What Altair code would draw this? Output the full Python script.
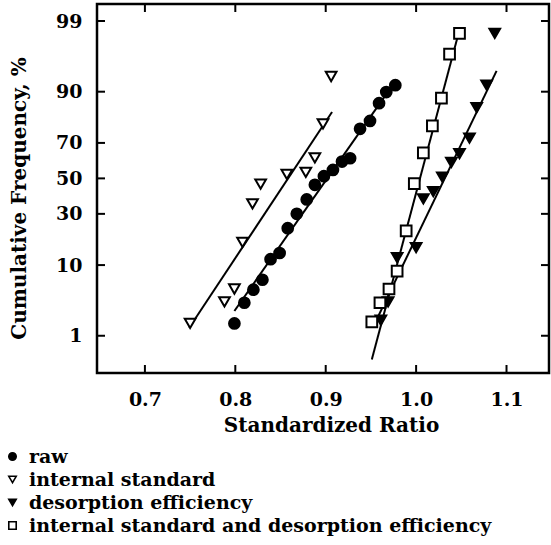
import altair as alt
import pandas as pd
from statistics import NormalDist

series_names = ["raw", "internal standard", "desorption efficiency",
                "internal standard and desorption efficiency"]

raw_x = [0.799, 0.810, 0.820, 0.830, 0.839, 0.849, 0.858, 0.868, 0.879, 0.888,
         0.898, 0.908, 0.918, 0.927, 0.938, 0.949, 0.959, 0.967, 0.977]
raw_p = [1.6, 3.3, 5.0, 6.7, 11.6, 13.5, 23.1, 30.0, 37.8, 46.2,
         51.3, 55.0, 59.8, 61.7, 76.8, 80.2, 86.7, 89.9, 91.6]

is_x = [0.750, 0.788, 0.799, 0.808, 0.819, 0.828, 0.857, 0.878, 0.888, 0.897, 0.906]
is_p = [1.6, 3.4, 5.1, 17.2, 35.3, 46.6, 52.4, 53.6, 61.9, 79.0, 93.4]

de_x = [0.961, 0.969, 0.979, 1.000, 1.008, 1.019, 1.029, 1.039, 1.048, 1.059,
        1.067, 1.078, 1.087]
de_p = [1.8, 3.4, 12.1, 15.3, 38.1, 42.3, 50.8, 59.3, 64.3, 72.4, 85.2, 91.6, 98.4]

isde_x = [0.951, 0.960, 0.970, 0.979, 0.989, 0.998, 1.008, 1.018, 1.028, 1.037, 1.048]
isde_p = [1.7, 3.3, 5.1, 8.5, 21.9, 46.9, 64.7, 78.1, 88.2, 96.7, 98.4]

# fitted lines (endpoints)
line_series = ["raw", "raw", "internal standard", "internal standard",
               "desorption efficiency", "desorption efficiency",
               "internal standard and desorption efficiency",
               "internal standard and desorption efficiency"]
line_x = [0.799, 0.974, 0.749, 0.907, 0.956, 1.089, 0.951, 1.048]
line_p = [2.5, 91.6, 1.36, 83.7, 1.8, 94.4, 0.37, 98.6]

x_ticks = [0.7, 0.8, 0.9, 1.0, 1.1]
y_ticks_pct = [1, 10, 30, 50, 70, 90, 99]

nd = NormalDist()
y_tick_z = [nd.inv_cdf(p / 100) for p in y_ticks_pct]

W, H = 452, 369
FONT = "DejaVu Serif"

rows = []
for name, xs, ps in [(series_names[0], raw_x, raw_p), (series_names[1], is_x, is_p),
                     (series_names[2], de_x, de_p), (series_names[3], isde_x, isde_p)]:
    for xv, pv in zip(xs, ps):
        rows.append({"series": name, "x": xv, "p": pv})
pts = pd.DataFrame(rows)
lines = pd.DataFrame({"series": line_series, "x": line_x, "p": line_p})
xt = pd.DataFrame({"x": x_ticks})
yt = pd.DataFrame({"z": y_tick_z})

X = alt.X("x:Q", scale=alt.Scale(domain=[0.647, 1.147], nice=False, zero=False),
          axis=alt.Axis(values=x_ticks, format=".1f", title="Standardized Ratio",
                        labelPadding=17, titleX=234, titleY=58, titleAlign="center",
                        titleBaseline="alphabetic"))
Y = alt.Y("z:Q", scale=alt.Scale(domain=[-2.877, 2.578], nice=False, zero=False),
          axis=alt.Axis(values=y_tick_z,
                        labelExpr="format(round(cumulativeNormal(datum.value)*100),'d')",
                        title="Cumulative Frequency, %", labelPadding=15,
                        titleX=-72, titleY=194, titleAlign="center",
                        titleBaseline="alphabetic", titleAngle=270))

leg = alt.Legend(title=None, orient="none", legendX=-94, legendY=443,
                 symbolSize=55, symbolStrokeWidth=1.6,
                 labelFont=FONT, labelFontWeight="bold", labelFontSize=19,
                 labelLimit=2000, rowPadding=3, labelOffset=7, padding=0)

points = alt.Chart(pts).transform_calculate(
    z="quantileNormal(datum.p/100)"
).mark_point(filled=True, size=115, strokeWidth=2, opacity=1).encode(
    x=X, y=Y,
    shape=alt.Shape("series:N", scale=alt.Scale(domain=series_names,
                    range=["circle", "triangle-down", "triangle-down", "square"]), legend=leg),
    fill=alt.Fill("series:N", scale=alt.Scale(domain=series_names,
                  range=["black", "white", "black", "white"]), legend=leg),
    stroke=alt.Stroke("series:N", scale=alt.Scale(domain=series_names,
                      range=["black", "black", "black", "black"]), legend=leg),
)

fit = alt.Chart(lines).transform_calculate(
    z="quantileNormal(datum.p/100)"
).mark_line(color="black", strokeWidth=2).encode(
    x=X, y=Y, detail="series:N", order="x:Q"
)

yl = alt.Chart(yt).mark_rule(color="black", strokeWidth=2).encode(
    y=Y, x=alt.value(0), x2=alt.value(8))
yr = alt.Chart(yt).mark_rule(color="black", strokeWidth=2).encode(
    y=Y, x=alt.value(W - 8), x2=alt.value(W))
xb = alt.Chart(xt).mark_rule(color="black", strokeWidth=2).encode(
    x=X, y=alt.value(H - 8), y2=alt.value(H))
xtp = alt.Chart(xt).mark_rule(color="black", strokeWidth=2).encode(
    x=X, y=alt.value(0), y2=alt.value(8))

chart = alt.layer(fit, points, yl, yr, xb, xtp).properties(
    width=W, height=H,
    autosize=alt.AutoSizeParams(type="none"),
    padding={"left": 97, "top": 4, "right": 2, "bottom": 172},
).configure_view(
    stroke="black", strokeWidth=2.5
).configure_axis(
    domain=False, ticks=False, tickSize=0, grid=False,
    labelFont=FONT, labelFontWeight="bold", labelFontSize=19, labelColor="black",
    titleFont=FONT, titleFontWeight="bold", titleFontSize=20, titleColor="black",
)

chart.save("out.html", embed_options={"renderer": "svg", "actions": False})
